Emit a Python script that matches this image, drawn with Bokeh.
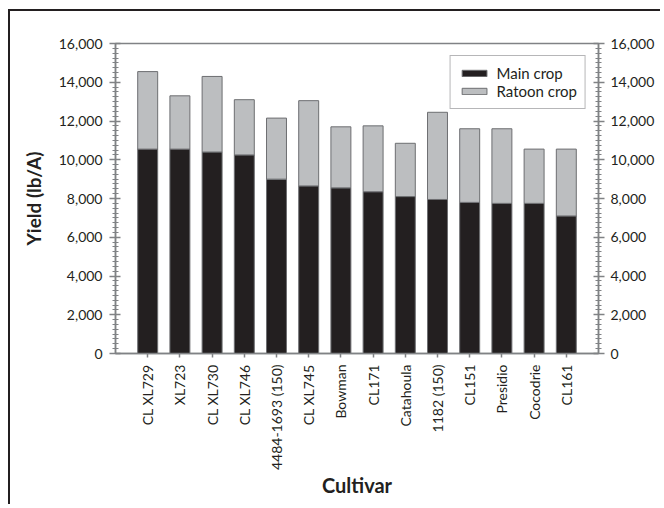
from bokeh.plotting import figure
from bokeh.models import (ColumnDataSource, LinearAxis, SingleIntervalTicker, FixedTicker,
                          Range1d, NumeralTickFormatter)
from bokeh.embed import file_html
from bokeh.resources import INLINE
import math

cultivars = ["CL XL729", "XL723", "CL XL730", "CL XL746", "4484-1693 (150)", "CL XL745",
             "Bowman", "CL171", "Catahoula", "1182 (150)", "CL151", "Presidio", "Cocodrie", "CL161"]
main_crop = [10550, 10550, 10400, 10250, 9000, 8650, 8550, 8350, 8100, 7950, 7800, 7750, 7750, 7100]
ratoon_crop = [4000, 2750, 3900, 2850, 3150, 4400, 3150, 3400, 2750, 4500, 3800, 3850, 2800, 3450]
y_ticks = [0, 2000, 4000, 6000, 8000, 10000, 12000, 14000, 16000]

FONT = "Lato"
AXIS_GRAY = "#808285"
DARK = "#231f20"

idx = list(range(len(cultivars)))
src = ColumnDataSource(dict(x=idx, main=main_crop, ratoon=ratoon_crop))

p = figure(width=652, height=495, output_backend="svg", toolbar_location=None,
           x_range=Range1d(-1, len(cultivars)), y_range=Range1d(y_ticks[0], y_ticks[-1]),
           min_border_left=105, min_border_right=64, min_border_top=32, min_border_bottom=153)
p.styles = {"margin-left": "8px", "margin-top": "9px",
            "border-left": "2px solid #231f20", "border-top": "2px solid #231f20"}
p.xaxis.visible = False
p.yaxis.visible = False
p.xgrid.visible = False
p.ygrid.visible = False
p.outline_line_color = AXIS_GRAY
p.outline_line_width = 1.5

p.vbar_stack(["main", "ratoon"], x="x", width=0.62, source=src,
             fill_color=[DARK, "#bcbec0"], line_color="#6d6e71", line_width=1,
             legend_label=["Main crop", "Ratoon crop"])

def yaxis(label, standoff):
    ax = LinearAxis(ticker=SingleIntervalTicker(interval=2000, num_minor_ticks=8),
                    formatter=NumeralTickFormatter(format="0,0"))
    ax.axis_line_color = AXIS_GRAY
    ax.axis_line_width = 1.5
    ax.major_tick_line_color = AXIS_GRAY
    ax.major_tick_line_width = 1.5
    ax.minor_tick_line_color = AXIS_GRAY
    ax.minor_tick_line_width = 1.2
    ax.major_tick_in = 5
    ax.major_tick_out = 6
    ax.minor_tick_in = 3
    ax.minor_tick_out = 3
    ax.major_label_text_font = FONT
    ax.major_label_text_font_size = "14px"
    ax.major_label_text_color = DARK
    ax.major_label_standoff = standoff
    if label:
        ax.axis_label = label
        ax.axis_label_text_font = FONT
        ax.axis_label_text_font_style = "bold"
        ax.axis_label_text_font_size = "19px"
        ax.axis_label_text_color = DARK
        ax.axis_label_standoff = 11
    return ax

p.add_layout(yaxis("Yield (lb/A)", 7), "left")
p.add_layout(yaxis(None, 6), "right")

xa = LinearAxis(ticker=FixedTicker(ticks=idx),
                major_label_overrides={i: c for i, c in zip(idx, cultivars)})
xa.axis_line_color = AXIS_GRAY
xa.axis_line_width = 1.5
xa.major_tick_line_color = AXIS_GRAY
xa.major_tick_line_width = 1.5
xa.major_tick_in = 0
xa.major_tick_out = 4
xa.minor_tick_line_color = None
xa.major_label_orientation = math.pi / 2
xa.major_label_text_font = FONT
xa.major_label_text_font_size = "14px"
xa.major_label_text_color = DARK
xa.major_label_standoff = 7
xa.axis_label = "Cultivar"
xa.axis_label_text_font = FONT
xa.axis_label_text_font_style = "bold"
xa.axis_label_text_font_size = "20px"
xa.axis_label_text_color = DARK
xa.axis_label_standoff = 0
p.add_layout(xa, "below")

lg = p.legend[0]
lg.location = "top_right"
lg.margin = 12
lg.padding = 8
lg.spacing = 0
lg.glyph_width = 31
lg.glyph_height = 8
lg.label_height = 15
lg.label_standoff = 7
lg.label_text_font = FONT
lg.label_text_font_size = "15px"
lg.label_text_color = DARK
lg.border_line_color = "#6d6e71"
lg.border_line_width = 1.2
lg.background_fill_color = "white"
lg.background_fill_alpha = 1

open("out.html", "w").write(file_html(p, INLINE))
